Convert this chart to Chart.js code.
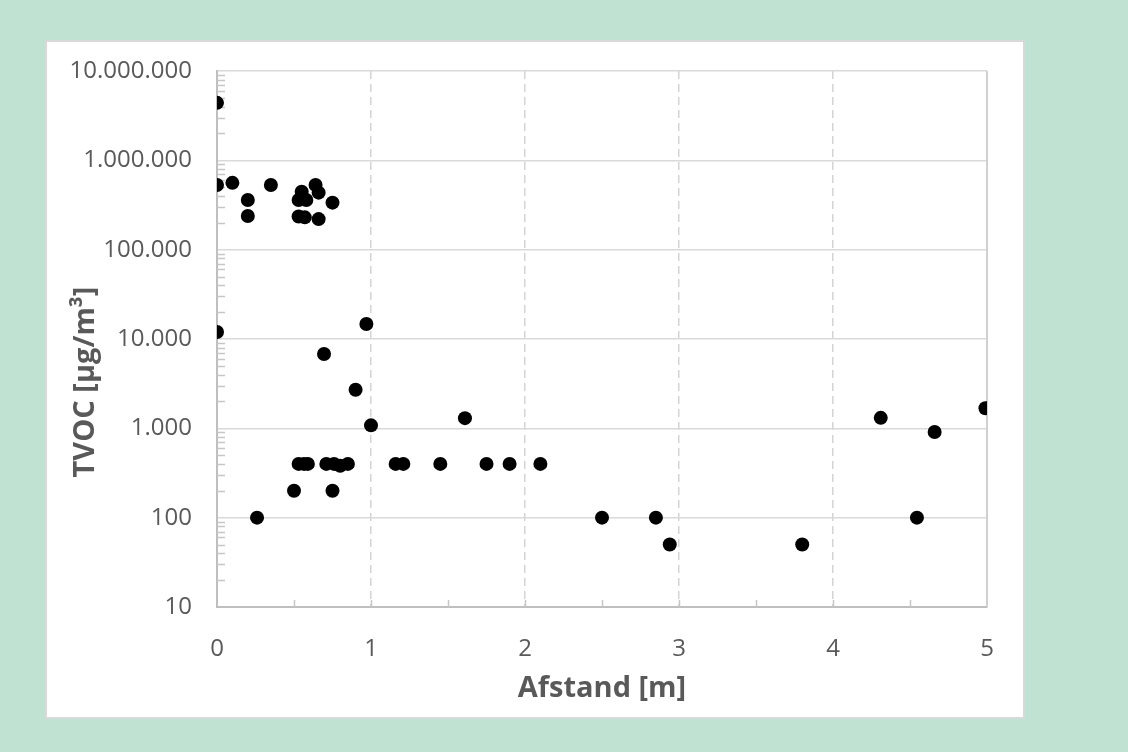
<!DOCTYPE html>
<html>
<head>
<meta charset="utf-8">
<script src="https://cdn.jsdelivr.net/npm/chart.js@4"></script>
<style>
    html, body { margin: 0; padding: 0; }
    body { width: 1128px; height: 752px; background: #bfe2d2; position: relative; overflow: hidden; }
    #frame { position: absolute; left: 45px; top: 40px; width: 980px; height: 679px; box-sizing: border-box; background: #fff; border: 2px solid #d9d9d9; }
    #wrap { position: absolute; left: 0; top: 0; width: 1128px; height: 752px; }
</style>
</head>
<body>
<div id="frame"></div>
<div id="wrap"><canvas id="tvoc-chart" width="1128" height="752"></canvas></div>
<script>
// Data
const afstand = [
    0, 0, 0.1, 0.2, 0.2, 0.35,
    0.55, 0.64, 0.66, 0.53, 0.58, 0.75, 0.53, 0.57, 0.66,
    0, 0.97, 0.695, 0.9, 1.0,
    0.53, 0.565, 0.59, 0.71, 0.76, 0.80, 0.85, 1.16, 1.21,
    0.5, 0.75, 0.26,
    1.45, 1.61, 1.75, 1.90, 2.10,
    2.50, 2.85, 2.94, 3.80,
    4.31, 4.66, 4.99, 4.545
];
const tvoc = [
    4400000, 530000, 560000, 360000, 238000, 530000,
    445000, 530000, 435000, 360000, 360000, 336000, 235000, 230000, 220000,
    12000, 14700, 6800, 2700, 1080,
    400, 400, 400, 400, 400, 380, 400, 400, 400,
    200, 200, 100,
    400, 1300, 400, 400, 400,
    100, 100, 50, 50,
    1310, 910, 1680, 100
];
const yTickValues = [10, 100, 1000, 10000, 100000, 1000000, 10000000];
const xTitle = "Afstand [m]";
const yTitle = "TVOC [µg/m³]";

const labelColor = "#595959";
const fontFamily = "'Open Sans', 'Noto Sans', sans-serif";

// Danish number format: 10.000.000
function formatDa(v) {
    return String(Math.round(v)).replace(/\B(?=(\d{3})+(?!\d))/g, ".");
}

// Minor tick marks inside the plot, solid right edge and the offset y title
const axisExtras = {
    id: "axisExtras",
    beforeDatasetsDraw(chart) {
        const { ctx, chartArea, scales } = chart;
        const x = scales.x, y = scales.y;
        ctx.save();
        ctx.strokeStyle = "#c6c6c6";
        ctx.lineWidth = 1.5;
        ctx.beginPath();
        for (let d = 1; d < 7; d++) {
            for (let m = 2; m <= 9; m++) {
                const py = Math.round(y.getPixelForValue(m * Math.pow(10, d))) + 0.5;
                ctx.moveTo(chartArea.left, py);
                ctx.lineTo(chartArea.left + 8, py);
            }
        }
        for (let v = 0.5; v < 5; v += 0.5) {
            const px = Math.round(x.getPixelForValue(v)) + 0.5;
            ctx.moveTo(px, chartArea.bottom);
            ctx.lineTo(px, chartArea.bottom - 7);
        }
        ctx.stroke();

        ctx.strokeStyle = "#d0d0d0";
        ctx.lineWidth = 2;
        ctx.beginPath();
        const rx = x.getPixelForValue(5);
        ctx.moveTo(rx, chartArea.top);
        ctx.lineTo(rx, chartArea.bottom);
        ctx.stroke();
        ctx.restore();
    },
    afterDraw(chart) {
        const { ctx } = chart;
        ctx.save();
        ctx.translate(86, 382);
        ctx.rotate(-Math.PI / 2);
        ctx.fillStyle = labelColor;
        ctx.font = "bold 29px " + fontFamily;
        ctx.textAlign = "center";
        ctx.textBaseline = "middle";
        ctx.fillText(yTitle, 0, 0);
        ctx.restore();
    }
};

const ctx = document.getElementById("tvoc-chart").getContext("2d");

const tvocChart = new Chart(ctx, {
    type: "scatter",
    data: {
        datasets: [
            {
                label: "TVOC",
                data: afstand.map((a, i) => ({ x: a, y: tvoc[i] })),
                backgroundColor: "#000000",
                borderWidth: 0,
                pointRadius: 7,
                pointHoverRadius: 7,
            },
        ],
    },
    options: {
        responsive: false,
        animation: false,
        layout: { padding: { top: 71, right: 141, left: 0, bottom: 0 } },
        plugins: {
            legend: { display: false },
            tooltip: { enabled: false },
        },
        scales: {
            x: {
                type: "linear",
                min: 0,
                max: 5,
                afterFit: (s) => { s.height = 145; },
                ticks: {
                    stepSize: 1,
                    padding: 28,
                    color: labelColor,
                    font: { family: fontFamily, size: 24 },
                },
                grid: {
                    drawTicks: false,
                    lineWidth: 1.5,
                    color: (c) => (c.tick && (c.tick.value === 0 || c.tick.value === 5) ? "rgba(0,0,0,0)" : "#d4d4d4"),
                },
                border: { color: "#bfbfbf", width: 2, dash: [8, 5] },
                title: {
                    display: true,
                    text: xTitle,
                    color: labelColor,
                    font: { family: fontFamily, size: 29, weight: "bold" },
                    padding: { top: 0, bottom: 46 },
                },
            },
            y: {
                type: "logarithmic",
                min: 10,
                max: 10000000,
                afterFit: (s) => { s.width = 217; },
                afterBuildTicks: (s) => { s.ticks = yTickValues.map((v) => ({ value: v })); },
                ticks: {
                    padding: 25,
                    color: labelColor,
                    font: { family: fontFamily, size: 24 },
                    callback: (v) => formatDa(v),
                },
                grid: {
                    drawTicks: false,
                    lineWidth: 1.5,
                    color: "#d9d9d9",
                },
                border: { color: "#bfbfbf", width: 2 },
            },
        },
    },
    plugins: [axisExtras],
});
</script>
</body>
</html>
